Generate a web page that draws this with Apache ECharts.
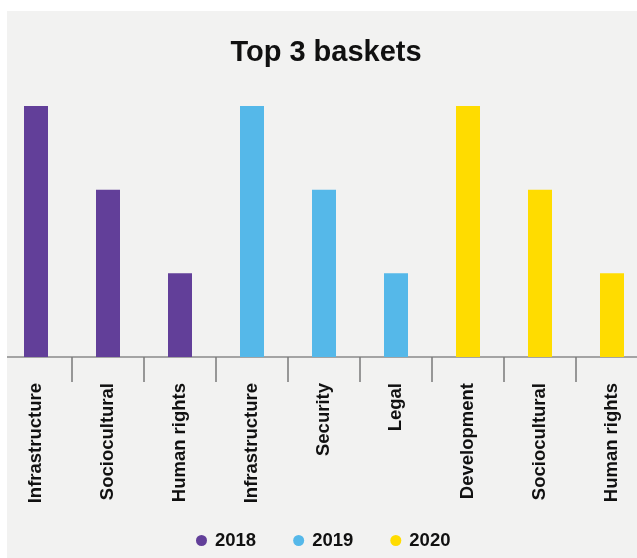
<!DOCTYPE html>
<html>
<head>
<meta charset="utf-8">
<script src="https://cdn.jsdelivr.net/npm/echarts@6/dist/echarts.min.js"></script>
<style>
  html, body { margin: 0; padding: 0; background: #ffffff; }
  #paper { position: absolute; left: 7px; top: 11px; width: 630px; height: 547px; background: #f2f2f1; }
  #chart { position: absolute; left: 7px; top: 0; width: 630px; height: 558px; overflow: hidden; }
</style>
</head>
<body>
<div id="paper"></div>
<div id="chart"></div>
<script>
// categories per year, top 3 baskets ranked 3 / 2 / 1
const categories = ['Infrastructure', 'Sociocultural', 'Human rights',
                    'Infrastructure', 'Security', 'Legal',
                    'Development', 'Sociocultural', 'Human rights']
const years = ['2018', '2019', '2020']
const values2018 = [3, 2, 1, '-', '-', '-', '-', '-', '-']
const values2019 = ['-', '-', '-', 3, 2, 1, '-', '-', '-']
const values2020 = ['-', '-', '-', '-', '-', '-', 3, 2, 1]
const colors = ['#623f99', '#55b8e9', '#ffdc00']

const labelFont = '"Liberation Sans", Arial, sans-serif'

let chart = echarts.init(document.getElementById('chart'))

function bar(name, data, color) {
    return {
        name: name,
        type: 'bar',
        stack: 'all',
        barWidth: 24,
        itemStyle: { color: color },
        data: data
    }
}

let option = {
    animation: false,
    title: {
        text: 'Top 3 baskets',
        left: 314,
        top: 33,
        textAlign: 'center',
        textStyle: { fontFamily: labelFont, fontWeight: 'bold', fontSize: 29, color: '#111' }
    },
    legend: {
        data: years,
        left: 189,
        top: 531,
        padding: 0,
        icon: 'circle',
        itemWidth: 11,
        itemHeight: 11,
        itemGap: 37,
        textStyle: { fontFamily: labelFont, fontWeight: 'bold', fontSize: 18.5, color: '#111', padding: [0, 0, 0, 3] }
    },
    // grid is wider than the page on both sides, like the original crop
    grid: { left: -7, top: 106, width: 648, height: 251, containLabel: false, outerBoundsMode: 'none' },
    xAxis: {
        type: 'category',
        data: categories,
        axisLine: { lineStyle: { color: '#8a8a8a', width: 1.5 } },
        axisTick: { show: true, length: 25, lineStyle: { color: '#7a7a7a', width: 1.5 } },
        axisLabel: {
            rotate: 90,
            interval: 0,
            margin: 26,
            fontFamily: labelFont,
            fontWeight: 'bold',
            fontSize: 18.5,
            color: '#111'
        }
    },
    yAxis: {
        type: 'value',
        min: 0,
        max: 3,
        show: false,
        splitLine: { show: false }
    },
    series: [
        bar(years[0], values2018, colors[0]),
        bar(years[1], values2019, colors[1]),
        bar(years[2], values2020, colors[2])
    ]
}

chart.setOption(option)
</script>
</body>
</html>
